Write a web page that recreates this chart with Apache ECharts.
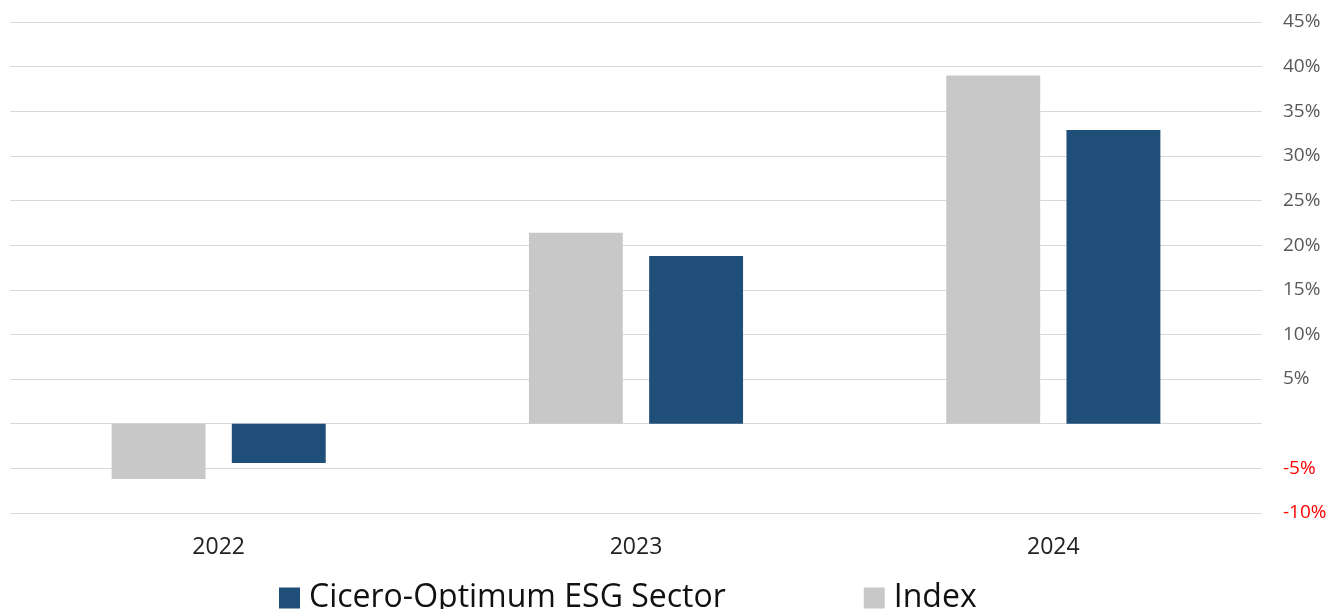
<!DOCTYPE html>
<html>
<head>
<meta charset="utf-8">
<script src="https://cdn.jsdelivr.net/npm/echarts@6/dist/echarts.min.js"></script>
<style>
  html, body { margin: 0; padding: 0; background: #fff; }
  #chart { width: 1331px; height: 609px; }
</style>
</head>
<body>
<div id="chart"></div>
<script>
// years on the x axis
var years = ['2022', '2023', '2024'];
// yearly returns in %
var indexValues = [-6.2, 21.4, 39.0];
var esgValues = [-4.4, 18.8, 32.9];
var seriesNames = ['Cicero-Optimum ESG Sector', 'Index'];

var chart = echarts.init(document.getElementById('chart'));

var option = {
  animation: false,
  grid: { left: 10, right: 69, top: 22, bottom: 96 },
  legend: {
    data: seriesNames,
    top: 577,
    left: 274,
    itemWidth: 21,
    itemHeight: 21,
    itemGap: 138,
    icon: 'rect',
    textStyle: { fontFamily: 'Open Sans', fontSize: 32, color: '#111', padding: [0, 0, 0, 4] }
  },
  xAxis: {
    type: 'category',
    data: years,
    axisLine: { show: false },
    axisTick: { show: false },
    axisLabel: { fontFamily: 'Open Sans', fontSize: 23, color: '#222', margin: 23 }
  },
  yAxis: {
    type: 'value',
    position: 'right',
    min: -10,
    max: 45,
    interval: 5,
    axisLine: { show: false },
    axisTick: { show: false },
    splitLine: { lineStyle: { color: '#d9d9d9', width: 1 } },
    axisLabel: {
      margin: 21,
      fontFamily: 'Open Sans',
      fontSize: 19,
      formatter: function (v) {
        if (v === 0) return '';
        return v < 0 ? '{neg|' + v + '%}' : v + '%';
      },
      color: '#595959',
      rich: { neg: { color: '#ff0000', fontFamily: 'Open Sans', fontSize: 19 } }
    }
  },
  series: [
    {
      name: 'Index',
      type: 'bar',
      data: indexValues,
      barWidth: '22.5%',
      barGap: '28%',
      itemStyle: { color: '#c8c8c8' }
    },
    {
      name: 'Cicero-Optimum ESG Sector',
      type: 'bar',
      data: esgValues,
      barWidth: '22.5%',
      itemStyle: { color: '#1f4e79' }
    }
  ]
};

chart.setOption(option);
</script>
</body>
</html>
